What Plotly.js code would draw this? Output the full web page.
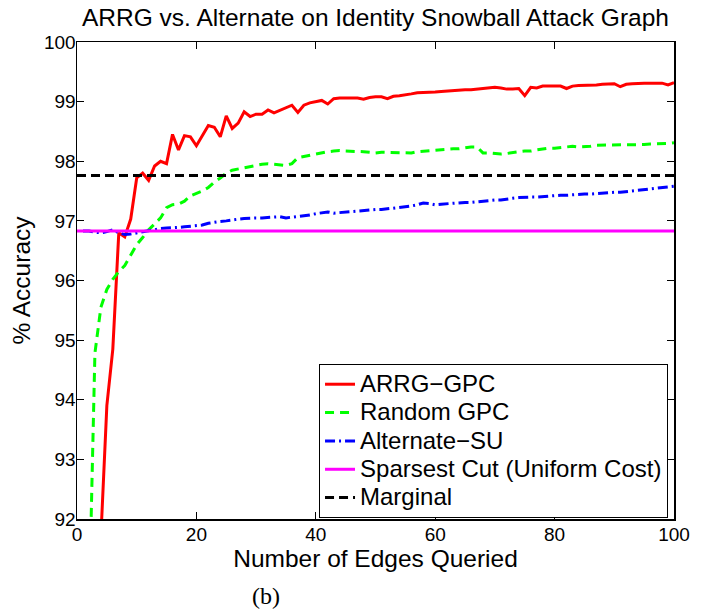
<!DOCTYPE html>
<html>
<head>
<meta charset="utf-8">
<script src="https://cdn.plot.ly/plotly-3.0.1.min.js"></script>
<style>
  html, body { margin: 0; padding: 0; background: #fff; }
  #chart { width: 706px; height: 611px; }
</style>
</head>
<body>
<div id="chart"></div>
<script>
// ---- Data ----
const edgesQueried = Array.from({length: 100}, (_, i) => i + 1);
const constantLineX = [0, 100];

const arrgGPC = [
  85.0, 87.0, 89.0, 91.7, 93.9, 94.85, 96.8, 96.73, 97.03, 97.72,
  97.8, 97.68, 97.92, 98.0, 97.96, 98.45, 98.19, 98.43, 98.41, 98.26,
  98.44, 98.6, 98.57, 98.41, 98.76, 98.55, 98.64, 98.83, 98.75, 98.79,
  98.79, 98.86, 98.81, 98.85, 98.89, 98.94, 98.82, 98.94, 98.98, 99.0,
  99.02, 98.96, 99.05, 99.06, 99.06, 99.06, 99.06, 99.04, 99.07, 99.08,
  99.08, 99.05, 99.09, 99.1, 99.11, 99.13, 99.15, 99.15, 99.16, 99.16,
  99.17, 99.18, 99.19, 99.2, 99.2, 99.2, 99.21, 99.21, 99.23, 99.24,
  99.23, 99.21, 99.21, 99.22, 99.1, 99.24, 99.23, 99.26, 99.26, 99.26,
  99.26, 99.22, 99.26, 99.27, 99.27, 99.28, 99.28, 99.29, 99.29, 99.3,
  99.25, 99.29, 99.3, 99.31, 99.31, 99.31, 99.31, 99.31, 99.28, 99.32
];

const randomGPC = [
  86.0, 90.5, 94.78, 95.55, 95.85, 96.02, 96.15, 96.25, 96.43, 96.6,
  96.72, 96.85, 96.95, 97.05, 97.22, 97.27, 97.28, 97.33, 97.42, 97.46,
  97.5, 97.56, 97.65, 97.72, 97.8, 97.85, 97.87, 97.9, 97.92, 97.94,
  97.95, 97.96, 97.95, 97.93, 97.93, 97.96, 98.06, 98.08, 98.1, 98.13,
  98.15, 98.16, 98.17, 98.18, 98.17, 98.17, 98.17, 98.16, 98.15, 98.14,
  98.15, 98.15, 98.15, 98.15, 98.14, 98.14, 98.16, 98.17, 98.18, 98.18,
  98.19, 98.2, 98.21, 98.21, 98.23, 98.24, 98.24, 98.14, 98.14, 98.13,
  98.12, 98.13, 98.15, 98.16, 98.17, 98.17, 98.19, 98.21, 98.22, 98.22,
  98.23, 98.25, 98.25, 98.24, 98.24, 98.25, 98.27, 98.27, 98.27, 98.27,
  98.27, 98.27, 98.28, 98.28, 98.28, 98.29, 98.29, 98.29, 98.3, 98.31
];

const alternateSU = [
  96.83, 96.83, 96.81, 96.8, 96.82, 96.85, 96.8, 96.77, 96.78, 96.8,
  96.82, 96.84, 96.86, 96.87, 96.88, 96.88, 96.89, 96.9, 96.91, 96.92,
  96.93, 96.96, 96.98, 96.99, 97.0, 97.02, 97.03, 97.04, 97.05, 97.05,
  97.05, 97.06, 97.06, 97.07, 97.05, 97.06, 97.07, 97.09, 97.1, 97.12,
  97.14, 97.15, 97.13, 97.14, 97.15, 97.15, 97.16, 97.17, 97.18, 97.19,
  97.19, 97.2, 97.21, 97.22, 97.24, 97.25, 97.27, 97.3, 97.29, 97.27,
  97.28, 97.29, 97.3, 97.3, 97.31, 97.31, 97.32, 97.34, 97.34, 97.35,
  97.35, 97.37, 97.38, 97.39, 97.4, 97.4, 97.4, 97.41, 97.41, 97.42,
  97.43, 97.43, 97.44, 97.44, 97.45, 97.45, 97.46, 97.47, 97.47, 97.48,
  97.48, 97.49, 97.5, 97.51, 97.52, 97.53, 97.54, 97.55, 97.56, 97.58
];

const sparsestCutValue = 96.83;
const marginalValue = 97.76;

const seriesNames = ['ARRG\u2212GPC', 'Random GPC', 'Alternate\u2212SU',
                     'Sparsest Cut (Uniform Cost)', 'Marginal'];
const xTickVals = [0, 20, 40, 60, 80, 100];
const yTickVals = [92, 93, 94, 95, 96, 97, 98, 99, 100];

// ---- Traces ----
const FONT = '"Liberation Sans", Arial, Helvetica, sans-serif';
// legend labels are drawn a bit larger than the row spacing font
const legendLabel = (s) => '<span style="font-size:24px">' + s + '</span>';

const traces = [
  { x: edgesQueried, y: arrgGPC, name: legendLabel(seriesNames[0]), mode: 'lines',
    line: { color: '#ff0000', width: 3 } },
  { x: edgesQueried, y: randomGPC, name: legendLabel(seriesNames[1]), mode: 'lines',
    line: { color: '#00ff00', width: 3, dash: '9px,6px' } },
  { x: edgesQueried, y: alternateSU, name: legendLabel(seriesNames[2]), mode: 'lines',
    line: { color: '#0000ff', width: 3, dash: '10px,4px,2px,4px' } },
  { x: constantLineX, y: constantLineX.map(() => sparsestCutValue), name: legendLabel(seriesNames[3]), mode: 'lines',
    line: { color: '#ff00ff', width: 3 } },
  { x: constantLineX, y: constantLineX.map(() => marginalValue), name: legendLabel(seriesNames[4]), mode: 'lines',
    line: { color: '#000000', width: 3, dash: '9px,5px' } }
];

const axisCommon = {
  showgrid: false, zeroline: false,
  showline: true, linecolor: '#000', linewidth: 1.5, mirror: 'ticks',
  ticks: 'inside', ticklen: 7, tickwidth: 1, tickcolor: '#000',
  tickfont: { family: FONT, size: 19, color: '#000' },
  fixedrange: true
};

const layout = {
  width: 706, height: 611,
  paper_bgcolor: '#fff', plot_bgcolor: '#fff',
  margin: { l: 77, r: 32, t: 42, b: 92 },
  showlegend: true,
  title: {
    text: 'ARRG vs. Alternate on Identity Snowball Attack Graph',
    font: { family: FONT, size: 24.5, color: '#000' },
    x: 0.5, xref: 'paper', xanchor: 'center',
    y: 0.972, yref: 'container', yanchor: 'middle'
  },
  xaxis: Object.assign({}, axisCommon, {
    range: [0, 100], tickvals: xTickVals, ticktext: xTickVals.map(String),
    ticklabelstandoff: -2,
    title: { text: 'Number of Edges Queried', font: { family: FONT, size: 24.5, color: '#000' }, standoff: 0 }
  }),
  yaxis: Object.assign({}, axisCommon, {
    range: [92, 100], tickvals: yTickVals, ticktext: yTickVals.map(String),
    ticklabelstandoff: -4,
    title: { text: '% Accuracy', font: { family: FONT, size: 24.5, color: '#000' }, standoff: 6 }
  }),
  legend: {
    x: 0.99, xanchor: 'right', y: 0.002, yanchor: 'bottom',
    bgcolor: '#fff', bordercolor: '#000', borderwidth: 1,
    font: { family: FONT, size: 19.5, color: '#000' },
    tracegroupgap: 0, itemwidth: 30
  },
  annotations: [{
    text: '(b)', xref: 'paper', yref: 'paper',
    x: (266 - 77) / 597, y: -(596 - 519) / 477, xanchor: 'center', yanchor: 'middle',
    showarrow: false, font: { family: '"Liberation Serif", "Times New Roman", serif', size: 24, color: '#000' }
  }]
};

Plotly.newPlot('chart', traces, layout, { displayModeBar: false, staticPlot: true });
</script>
</body>
</html>
